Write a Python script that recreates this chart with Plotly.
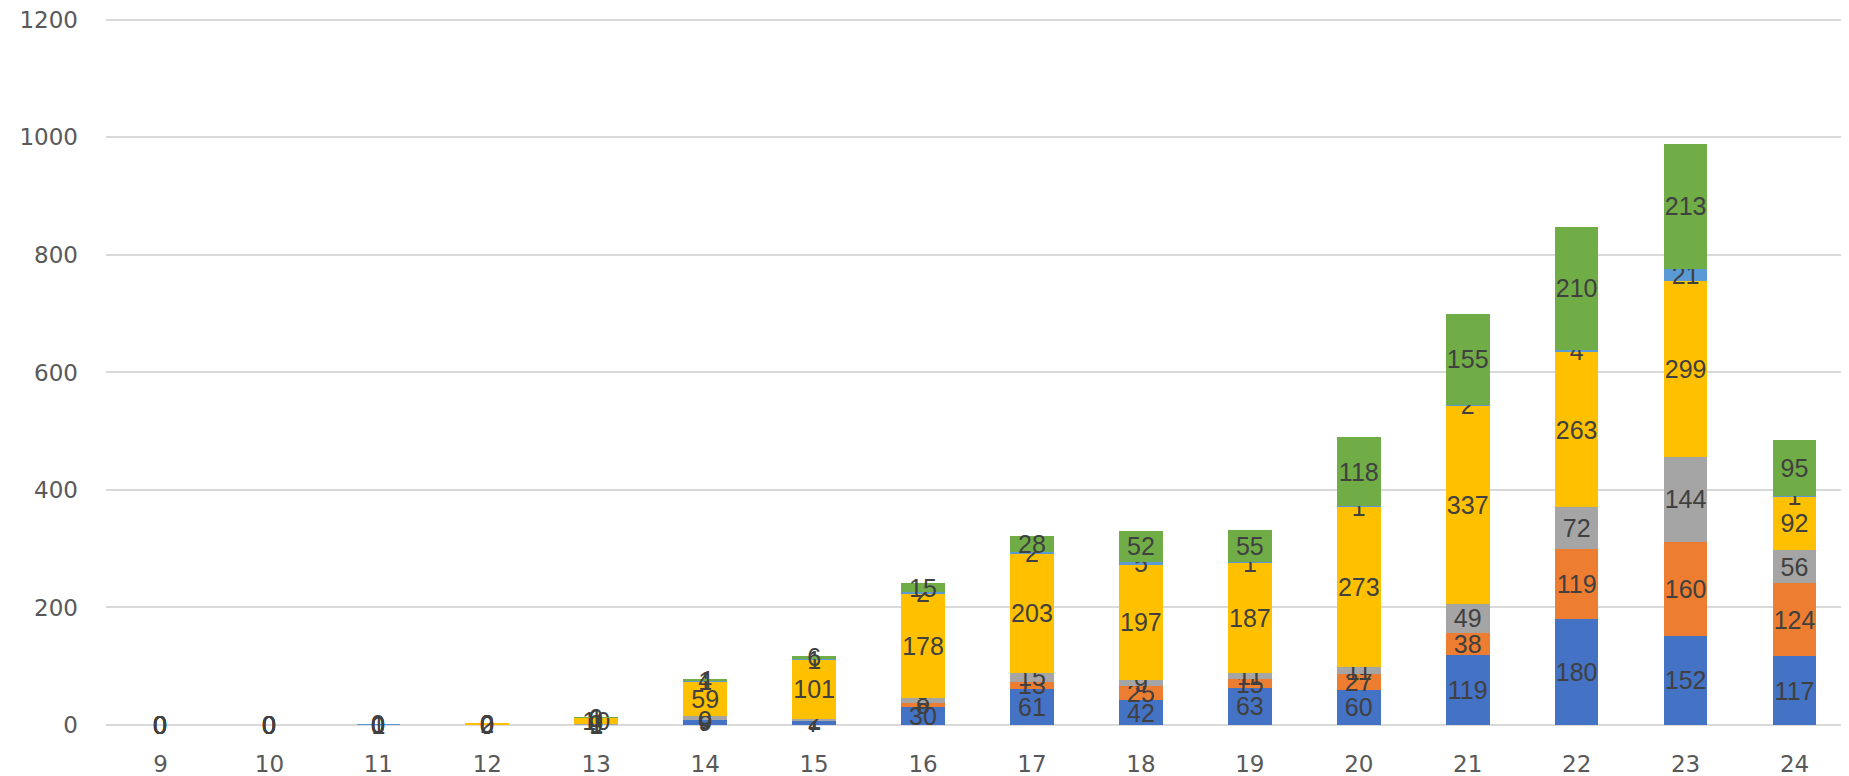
import plotly.graph_objects as go

categories = ["9", "10", "11", "12", "13", "14", "15", "16", "17", "18", "19", "20", "21", "22", "23", "24"]

s_blue =      [0, 0, 0, 0, 1, 9, 7, 30, 61, 42, 63, 60, 119, 180, 152, 117]
s_orange =    [0, 0, 0, 0, 0, 0, 1, 8, 13, 25, 15, 27, 38, 119, 160, 124]
s_gray =      [0, 0, 0, 0, 1, 6, 2, 8, 15, 9, 11, 11, 49, 72, 144, 56]
s_yellow =    [0, 0, 0, 2, 10, 59, 101, 178, 203, 197, 187, 273, 337, 263, 299, 92]
s_lightblue = [0, 0, 1, 0, 0, 1, 1, 2, 2, 5, 1, 1, 2, 4, 21, 1]
s_green =     [0, 0, 0, 0, 1, 4, 6, 15, 28, 52, 55, 118, 155, 210, 213, 95]

series = [
    ("Series1", s_blue, "#4472C4"),
    ("Series2", s_orange, "#ED7D31"),
    ("Series3", s_gray, "#A5A5A5"),
    ("Series4", s_yellow, "#FFC000"),
    ("Series5", s_lightblue, "#5B9BD5"),
    ("Series6", s_green, "#70AD47"),
]

label_font = dict(family="Liberation Sans, Arial, sans-serif", size=25, color="#404040")
tick_font = dict(family="DejaVu Sans, sans-serif", size=23, color="#595959")

fig = go.Figure()
cum = [0] * len(categories)
for name, vals, color in series:
    fig.add_trace(go.Bar(
        x=categories, y=vals, name=name,
        marker=dict(color=color, line=dict(width=0)),
        text=[str(v) for v in vals],
        textposition="inside",
        insidetextanchor="middle",
        constraintext="none",
        textangle=0,
        textfont=label_font,
        cliponaxis=False,
    ))
    # zero-valued segments still get a "0" label, as in the original
    for i, v in enumerate(vals):
        if v == 0:
            fig.add_annotation(x=i, y=cum[i], text="0", showarrow=False,
                               font=label_font, xref="x", yref="y")
    cum = [c + v for c, v in zip(cum, vals)]

# page body has an 8px margin; compensate so the plot area lands where the original's does
fig.update_layout(
    barmode="stack",
    bargap=0.6,
    width=1841, height=768,
    showlegend=False,
    plot_bgcolor="white", paper_bgcolor="white",
    margin=dict(l=98, r=0, t=6, b=51),
    xaxis=dict(
        type="category", automargin=False,
        showgrid=False, showline=False, ticks="",
        tickfont=tick_font, ticklabelstandoff=23,
    ),
    yaxis=dict(
        range=[0, 1210], tickvals=[0, 200, 400, 600, 800, 1000, 1200], automargin=False,
        showgrid=True, gridcolor="#D9D9D9", gridwidth=1.5,
        zeroline=True, zerolinecolor="#D9D9D9", zerolinewidth=1.5,
        showline=False, ticks="",
        tickfont=tick_font,
        ticklabelstandoff=27,
        ticklabeloverflow="allow",
    ),
)

fig.write_html("out.html")
